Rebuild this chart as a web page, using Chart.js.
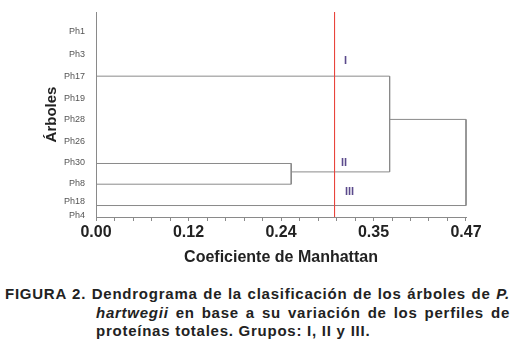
<!DOCTYPE html>
<html>
<head>
<meta charset="utf-8">
<script src="https://cdn.jsdelivr.net/npm/chart.js@4/dist/chart.umd.min.js"></script>
<style>
    body { margin: 0; background: #fff; width: 518px; height: 348px; overflow: hidden; position: relative; }
    #wrap { position: absolute; left: 0; top: 0; width: 518px; height: 268px; }
    .cap { position: absolute; font-family: "Liberation Sans", Arial, sans-serif; font-weight: bold; font-size: 15px; letter-spacing: 0.75px; line-height: 18.5px; color: #222; white-space: nowrap; }
    .just { text-align: justify; text-align-last: justify; white-space: normal; }
</style>
</head>
<body>
<div id="wrap"><canvas id="dendro" width="518" height="268"></canvas></div>
<div class="cap just" style="left:5px; top:285px; width:505px;">FIGURA 2. Dendrograma de la clasificación de los árboles de <i>P.</i></div>
<div class="cap just" style="left:96px; top:303.5px; width:414px;"><i>hartwegii</i> en base a su variación de los perfiles de</div>
<div class="cap" style="left:96px; top:322px;">proteínas totales. Grupos: I, II y III.</div>
<script>
// hojas del dendrograma (posición vertical en unidades del eje)
const leafNames = ['Ph1', 'Ph3', 'Ph17', 'Ph19', 'Ph28', 'Ph26', 'Ph30', 'Ph8', 'Ph18', 'Ph4'];
const leafPos = [0.94, 2.05, 3.13, 4.24, 5.24, 6.34, 7.34, 8.35, 9.23, 9.95];

// ramas horizontales: altura y, desde / hasta (coeficiente)
const branchY = [3.13, 7.39, 8.40, 7.80, 5.24, 9.44];
const branchFrom = [0, 0, 0, 0.248, 0.373, 0];
const branchTo = [0.373, 0.248, 0.248, 0.373, 0.47, 0.47];

// uniones verticales
const joinX = [0.248, 0.373, 0.47];
const joinTop = [7.39, 3.13, 5.24];
const joinBottom = [8.40, 7.80, 9.44];

// línea de corte y grupos
const cutoff = 0.303;
const groupNames = ['I', 'II', 'III'];
const groupX = [0.317, 0.315, 0.322];
const groupY = [2.39, 7.38, 8.79];

const xTickLabels = ['0.00', '0.12', '0.24', '0.35', '0.47'];
const xMax = 0.47;
const minorSteps = 20;

const lineColor = '#8a8a8a';

function segment(x1, y1, x2, y2, color, order) {
    return {
        data: [{ x: x1, y: y1 }, { x: x2, y: y2 }],
        showLine: true,
        borderColor: color,
        borderWidth: 1,
        pointRadius: 0,
        clip: false,
        order: order
    };
}

const datasets = [];
datasets.push(segment(cutoff, 0, cutoff, 10, '#e8453c', 0));
branchY.forEach((y, i) => datasets.push(segment(branchFrom[i], y, branchTo[i], y, lineColor, 1)));
joinX.forEach((x, i) => datasets.push(segment(x, joinTop[i], x, joinBottom[i], lineColor, 1)));

const groupLabels = {
    id: 'groupLabels',
    afterDatasetsDraw(chart) {
        const ctx = chart.ctx;
        const xs = chart.scales.x, ys = chart.scales.y;
        ctx.save();
        ctx.font = 'bold 11px "Liberation Sans", Arial, sans-serif';
        ctx.fillStyle = '#5b4a8c';
        ctx.textAlign = 'center';
        ctx.textBaseline = 'middle';
        groupNames.forEach((g, i) => {
            ctx.fillText(g, xs.getPixelForValue(groupX[i]), ys.getPixelForValue(groupY[i]));
        });
        ctx.restore();
    }
};

new Chart(document.getElementById('dendro'), {
    type: 'scatter',
    data: { datasets: datasets },
    options: {
        responsive: false,
        animation: false,
        layout: { padding: { left: 40, right: 52, top: 12, bottom: 0 } },
        plugins: { legend: { display: false }, tooltip: { enabled: false } },
        scales: {
            x: {
                type: 'linear',
                min: 0,
                max: xMax,
                afterBuildTicks: scale => {
                    const t = [];
                    for (let i = 0; i <= minorSteps; i++) t.push({ value: xMax * i / minorSteps });
                    scale.ticks = t;
                },
                afterFit: scale => { scale.height = 51; },
                grid: { display: true, drawOnChartArea: false, drawTicks: true, tickLength: 4, color: lineColor },
                border: { display: true, color: lineColor, width: 1 },
                ticks: {
                    autoSkip: false,
                    maxRotation: 0,
                    padding: 2,
                    color: '#222',
                    font: { family: '"Liberation Sans", Arial, sans-serif', size: 16, weight: 'bold' },
                    callback: (v, i) => (i % 5 === 0 ? xTickLabels[i / 5] : '')
                },
                title: {
                    display: true,
                    text: 'Coeficiente de Manhattan',
                    color: '#222',
                    padding: { top: 0, bottom: 1 },
                    font: { family: '"Liberation Sans", Arial, sans-serif', size: 16, weight: 'bold' }
                }
            },
            y: {
                type: 'linear',
                min: 0,
                max: 10,
                reverse: true,
                afterBuildTicks: scale => { scale.ticks = leafPos.map(v => ({ value: v })); },
                afterFit: scale => { scale.width = 56; },
                grid: { display: false },
                border: { display: true, color: lineColor, width: 1 },
                ticks: {
                    autoSkip: false,
                    padding: 3,
                    color: '#555',
                    font: { family: '"Liberation Sans", Arial, sans-serif', size: 9 },
                    callback: (v, i) => leafNames[i]
                },
                title: {
                    display: true,
                    text: 'Árboles',
                    color: '#222',
                    padding: { top: 3, bottom: 0 },
                    font: { family: '"Liberation Sans", Arial, sans-serif', size: 15, weight: 'bold' }
                }
            }
        }
    },
    plugins: [groupLabels]
});
</script>
</body>
</html>
